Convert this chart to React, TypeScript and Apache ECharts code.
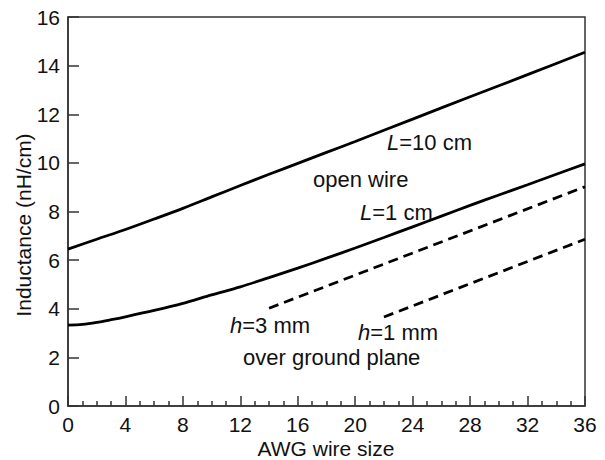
import React, { useEffect, useRef } from "react";
import * as echarts from "echarts";

const awgL10: number[] = [0, 2, 4, 6, 8, 10, 12, 14, 16, 18, 20, 24, 28, 32, 36];
const indL10: number[] = [6.45, 6.86, 7.26, 7.69, 8.13, 8.6, 9.07, 9.53, 9.98, 10.43, 10.88, 11.8, 12.72, 13.63, 14.55];

const awgL1: number[] = [0, 1, 2, 3, 4, 6, 8, 10, 12, 14, 16, 18, 20, 22, 24, 26, 28, 30, 32, 34, 36];
const indL1: number[] = [3.33, 3.36, 3.44, 3.55, 3.67, 3.93, 4.22, 4.57, 4.9, 5.28, 5.67, 6.08, 6.5, 6.93, 7.37, 7.81, 8.25, 8.68, 9.1, 9.53, 9.96];

const awgH3: number[] = [14, 36];
const indH3: number[] = [4.02, 9.02];

const awgH1: number[] = [22, 36];
const indH1: number[] = [3.66, 6.86];

const xTicks = { min: 0, max: 36, interval: 4 };
const yTicks = { min: 0, max: 16, interval: 2 };

const xTitle = "AWG wire size";
const yTitle = "Inductance (nH/cm)";

const FONT = "Liberation Sans, Arial, Helvetica, sans-serif";

const zip = (xs: number[], ys: number[]) => xs.map((x, i) => [x, ys[i]]);

export default function App() {
  const ref = useRef<HTMLDivElement>(null);
  useEffect(() => {
    document.body.style.margin = "0";
    if (!ref.current) return;
    const chart = echarts.init(ref.current, null, { renderer: "svg" });
    const axisColor = "#333";
    const AF = 22;
    const label = (x: number, y: number, text: string) => ({
      type: "text",
      x,
      y,
      style: {
        fontFamily: FONT,
        fontSize: AF,
        fill: "#111",
        text,
        verticalAlign: "middle",
        rich: {
          i: { fontStyle: "italic", fontFamily: FONT, fontSize: AF, fill: "#111" },
          n: { fontFamily: FONT, fontSize: AF, fill: "#111" },
        },
      },
    });
    chart.setOption({
      animation: false,
      backgroundColor: "#fff",
      grid: {
        left: 68,
        right: 20,
        top: 17,
        bottom: 54,
        containLabel: false,
        outerBoundsMode: "none",
        show: true,
        borderColor: axisColor,
        borderWidth: 1.5,
      },
      xAxis: {
        type: "value",
        min: xTicks.min,
        max: xTicks.max,
        interval: xTicks.interval,
        axisLine: { show: true, lineStyle: { color: axisColor, width: 1.5 } },
        axisTick: { show: true, inside: true, length: 10, lineStyle: { color: axisColor, width: 1.5 } },
        minorTick: { show: true, splitNumber: 4, length: 5, lineStyle: { color: axisColor, width: 1.5 } },
        axisLabel: { fontFamily: FONT, fontSize: 21, color: "#111", margin: 8 },
        splitLine: { show: false },
      },
      yAxis: {
        type: "value",
        min: yTicks.min,
        max: yTicks.max,
        interval: yTicks.interval,
        axisLine: { show: true, lineStyle: { color: axisColor, width: 1.5 } },
        axisTick: { show: true, inside: true, length: 11, lineStyle: { color: axisColor, width: 1.5 } },
        axisLabel: { fontFamily: FONT, fontSize: 21, color: "#111", margin: 8 },
        splitLine: { show: false },
      },
      series: [
        {
          type: "line",
          data: zip(awgL10, indL10),
          smooth: 0.3,
          showSymbol: false,
          lineStyle: { color: "#000", width: 2.8 },
        },
        {
          type: "line",
          data: zip(awgL1, indL1),
          smooth: 0.3,
          showSymbol: false,
          lineStyle: { color: "#000", width: 2.8 },
        },
        {
          type: "line",
          data: zip(awgH3, indH3),
          showSymbol: false,
          lineStyle: { color: "#000", width: 2.8, type: [10, 6] },
        },
        {
          type: "line",
          data: zip(awgH1, indH1),
          showSymbol: false,
          lineStyle: { color: "#000", width: 2.8, type: [10, 6] },
        },
      ],
      graphic: [
        label(387, 142, "{i|L}{n|=10 cm}"),
        label(313, 179, "{n|open wire}"),
        label(360, 212, "{i|L}{n|=1 cm}"),
        label(230, 325, "{i|h}{n|=3 mm}"),
        label(358, 332, "{i|h}{n|=1 mm}"),
        label(243, 357, "{n|over ground plane}"),
        {
          type: "text",
          x: 326,
          y: 448,
          style: {
            text: xTitle,
            fontFamily: FONT,
            fontSize: 21,
            fill: "#111",
            align: "center",
            verticalAlign: "middle",
          },
        },
        {
          type: "text",
          x: 23,
          y: 225,
          rotation: Math.PI / 2,
          style: {
            text: yTitle,
            fontFamily: FONT,
            fontSize: 21,
            fill: "#111",
            align: "center",
            verticalAlign: "middle",
          },
        },
      ],
    });
    return () => chart.dispose();
  }, []);
  return <div ref={ref} style={{ width: 605, height: 460 }} />;
}
